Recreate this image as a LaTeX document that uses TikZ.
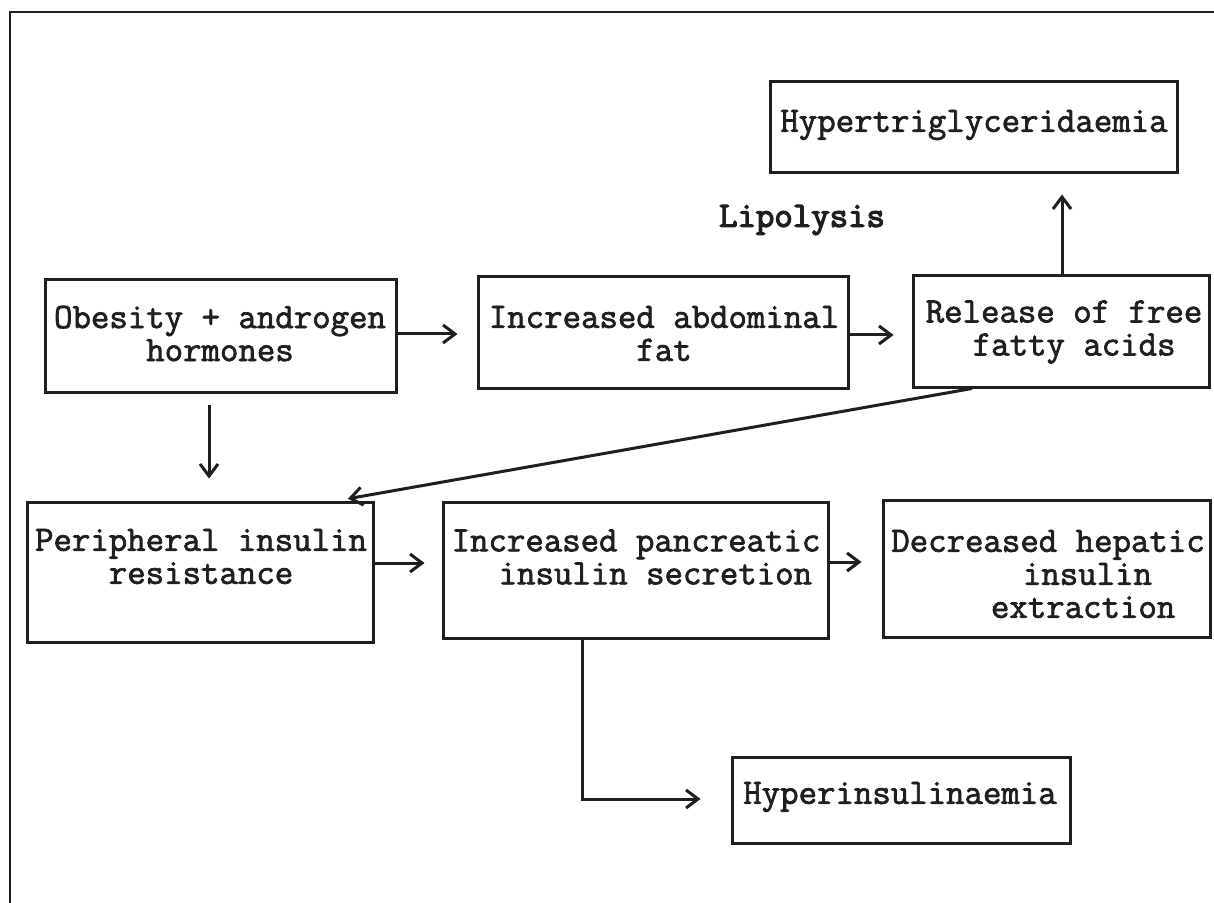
\documentclass[tikz,border=0pt]{standalone}
\usepackage{fontspec}
\newfontfamily\typer{Latin Modern Mono}[FakeBold=2]
\newfontfamily\typerb{Latin Modern Mono}[FakeBold=3.5]
\usetikzlibrary{arrows.meta,fit}
\newlength\cw
\setlength\cw{9.4pt}
\begin{document}
\begin{tikzpicture}[x=0.5pt,y=-0.5pt,
  box/.style={draw=black!88,line width=1.5pt,inner sep=0pt},
  txt/.style={font=\typer\fontsize{17.9}{16.5}\selectfont,inner sep=0pt,text=black!88},
  arr/.style={draw=black!88,line width=1.5pt,-{Straight Barb[length=6pt,width=9pt]}}
]
\useasboundingbox (0,0) rectangle (1214,903);

% open frame: top and left edges only
\draw[black!88,line width=1.3pt] (1214,12) -- (10,12) -- (10,903);

% boxes
\node[box,fit={(770,82)(1177,173)}]  (hyper)  {};
\node[box,fit={(45,280)(396,392)}]   (obes)   {};
\node[box,fit={(478,277)(848,388)}]  (abdo)   {};
\node[box,fit={(913,276)(1209,387)}] (ffa)    {};
\node[box,fit={(27,502)(373,642)}]   (periph) {};
\node[box,fit={(443,502)(828,638)}]  (panc)   {};
\node[box,fit={(883,500)(1210,637)}] (hep)    {};
\node[box,fit={(732,757)(1070,843)}] (hins)   {};

% texts
\node[txt] (hyper-t) at (974,125) {Hypertriglyceridaemia};
\node[txt,font=\typerb\fontsize{17.9}{16.5}\selectfont] (lipo-t) at (802,220) {Lipolysis};
\node[txt,align=center] (obes-t) at (220,333.5) {Obesity + androgen\\hormones};
\node[txt,align=center] (abdo-t) at (664,333.5) {Increased abdominal\\fat};
\node[txt,align=left] (ffa-t) at (1064,332) {Release of free\\\hspace*{2.5\cw}fatty acids};
\node[txt,align=center] (periph-t) at (201,556.5) {Peripheral insulin\\resistance};
\node[txt,align=left] (panc-t) at (636,557) {Increased pancreatic\\\hspace*{2.5\cw}insulin secretion};
\node[txt,align=left] (hep-t) at (1048,574) {Decreased hepatic\\\hspace*{7\cw}insulin\\\hspace*{5.3\cw}extraction};
\node[txt] (hins-t) at (900,797) {Hyperinsulinaemia};

% connectors
\draw[arr,shorten >=9.5pt] (obes.east|-0,334) -- (abdo.west|-0,334);
\draw[arr,shorten >=9pt] (abdo.east|-0,335) -- (ffa.west|-0,335);
\draw[arr,shorten >=10pt] (ffa.north-|1062,0) -- (hyper.south-|1062,0);
\draw[arr,shorten >=5pt] (ffa.south-|972,0) -- (periph.north-|338,0);
\draw[arr,shorten <=5.5pt,shorten >=11pt] (obes.south-|209,0) -- (periph.north-|209,0);
\draw[arr,shorten >=8.5pt] (periph.east|-0,563) -- (panc.west|-0,563);
\draw[arr,shorten >=10pt] (panc.east|-0,562) -- (hep.west|-0,562);
\draw[arr,shorten >=15pt] (panc.south-|582,0) |- (hins.west|-0,799);
\end{tikzpicture}
\end{document}
